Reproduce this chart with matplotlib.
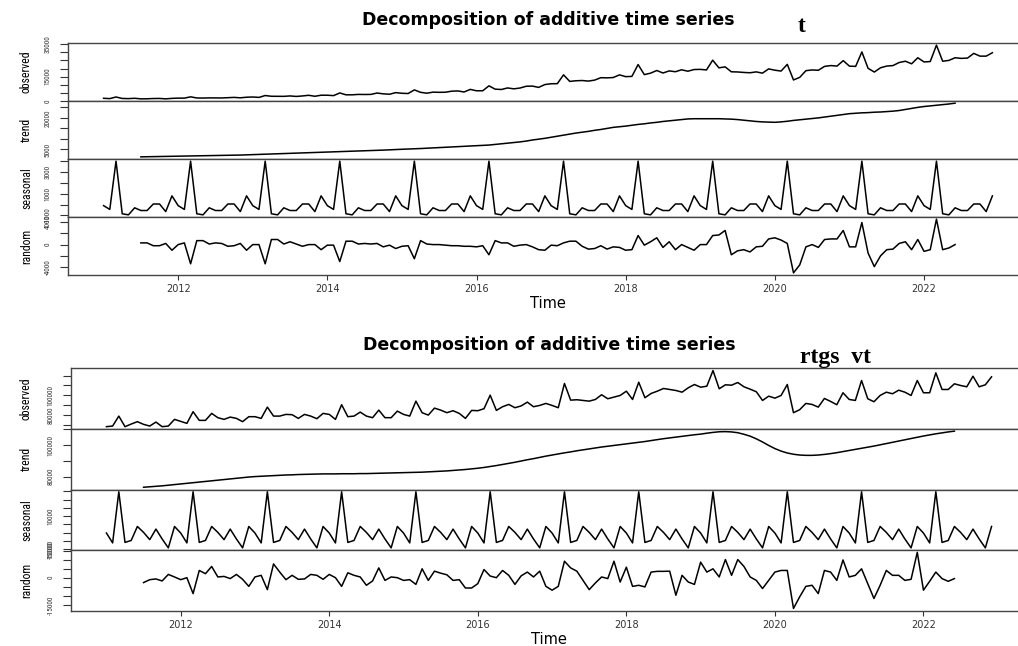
import numpy as np
import matplotlib
matplotlib.use("Agg")
import matplotlib.pyplot as plt

# ---- upper series (values in thousands), monthly Jan 2011 - Dec 2022 ----
top_observed = [
    1.6, 1.4, 2.4, 1.5, 1.4, 1.6, 1.25, 1.3, 1.45, 1.5, 1.25, 1.55,
    1.7, 1.7, 2.5, 1.8, 1.75, 1.85, 1.85, 1.8, 1.95, 2.15, 1.9, 2.25,
    2.4, 2.15, 3.3, 2.85, 2.85, 2.8, 3.05, 2.75, 3.05, 3.45, 2.85, 3.5,
    3.5, 3.25, 4.9, 3.75, 3.75, 4.0, 3.95, 4.0, 4.85, 4.35, 4.1, 5.1,
    4.7, 4.55, 6.8, 5.3, 4.75, 5.4, 5.3, 5.35, 6.0, 6.15, 5.5, 7.1,
    6.25, 6.25, 9.3, 7.25, 7.05, 8.0, 7.45, 7.95, 9.05, 9.15, 8.35, 10.1,
    10.6, 10.65, 16.1, 12.05, 12.45, 12.6, 12.25, 12.85, 14.35, 14.25, 14.45, 16.1,
    15.0, 15.15, 22.5, 16.25, 17.15, 18.8, 17.25, 18.55, 18.05, 19.25, 18.35, 19.4,
    19.5, 19.15, 25.2, 20.45, 21.05, 18.0, 17.9, 17.6, 17.4, 17.95, 17.15, 19.8,
    19.0, 18.45, 22.6, 12.95, 14.55, 18.7, 19.15, 18.95, 21.35, 21.85, 21.55, 24.9,
    21.5, 21.35, 30.3, 20.15, 17.85, 20.5, 21.55, 21.85, 23.75, 24.55, 22.95, 26.7,
    24.1, 24.35, 34.5, 24.55, 25.05, 26.7, 26.3, 26.5, 29.4, 27.7, 27.7, 29.8,
]
# trend and random: Jul 2011 - Jun 2022
top_trend = [
    1.50, 1.55, 1.60, 1.65, 1.70, 1.75,
    1.80, 1.85, 1.90, 1.95, 2.00, 2.05, 2.10, 2.15, 2.20, 2.30, 2.35, 2.45,
    2.5, 2.6, 2.7, 2.8, 2.9, 3.0, 3.1, 3.2, 3.3, 3.4, 3.5, 3.6,
    3.7, 3.8, 3.9, 4.0, 4.1, 4.2, 4.3, 4.45, 4.6, 4.7, 4.85, 5.0,
    5.1, 5.2, 5.3, 5.45, 5.6, 5.7, 5.85, 6.0, 6.15, 6.3, 6.45, 6.6,
    6.75, 6.9, 7.1, 7.4, 7.7, 8.0, 8.3, 8.6, 9.0, 9.5, 9.9, 10.3,
    10.8, 11.3, 11.8, 12.3, 12.8, 13.2, 13.6, 14.1, 14.5, 15.0, 15.5, 15.8,
    16.1, 16.5, 16.9, 17.2, 17.6, 17.9, 18.3, 18.6, 18.9, 19.2, 19.5, 19.6,
    19.6, 19.6, 19.6, 19.6, 19.5, 19.4, 19.2, 18.9, 18.6, 18.3, 18.1, 18.0,
    17.9, 18.1, 18.4, 18.8, 19.1, 19.4, 19.7, 20.0, 20.4, 20.8, 21.2, 21.6,
    22.0, 22.2, 22.4, 22.5, 22.7, 22.8, 23.0, 23.2, 23.5, 24.0, 24.5, 25.0,
    25.4, 25.7, 26.0, 26.3, 26.6, 27.0,
]
top_seasonal = [-0.1, -0.45, 4.0, -0.85, -0.95, -0.3, -0.55, -0.55, 0.05, 0.05, -0.65, 0.8]
top_random = [
    0.3, 0.3, -0.2, -0.2, 0.2, -1.0,
    0.0, 0.3, -3.4, 0.7, 0.7, 0.1, 0.3, 0.2, -0.3, -0.2, 0.2, -1.0,
    0.0, 0.0, -3.4, 0.9, 0.9, 0.1, 0.5, 0.1, -0.3, 0.0, 0.0, -0.9,
    -0.1, -0.1, -3.0, 0.6, 0.6, 0.1, 0.2, 0.1, 0.2, -0.4, -0.1, -0.7,
    -0.3, -0.2, -2.5, 0.7, 0.1, 0.0, 0.0, -0.1, -0.2, -0.2, -0.3, -0.3,
    -0.4, -0.2, -1.8, 0.7, 0.3, 0.3, -0.3, -0.1, 0.0, -0.4, -0.9, -1.0,
    -0.1, -0.2, 0.3, 0.6, 0.6, -0.3, -0.8, -0.7, -0.2, -0.8, -0.4, -0.5,
    -1.0, -0.9, 1.6, -0.1, 0.5, 1.2, -0.5, 0.5, -0.9, 0.0, -0.5, -1.0,
    0.0, 0.0, 1.6, 1.7, 2.5, -1.8, -1.1, -0.9, -1.3, -0.4, -0.3, 1.0,
    1.2, 0.8, 0.2, -5.0, -3.6, -0.4, 0.0, -0.5, 0.9, 1.0, 1.0, 2.5,
    -0.4, -0.4, 3.9, -1.5, -3.9, -2.0, -0.9, -0.8, 0.2, 0.5, -0.9, 0.9,
    -1.2, -0.9, 4.5, -0.9, -0.6, 0.0,
]

# ---- lower series (rtgs), values in thousands ----
bot_observed = [
    68.7, 69.3, 79.3, 68.7, 71.3, 73.7, 71.0, 69.3, 73.3, 68.7, 69.3, 76.0,
    74.0, 72.0, 83.7, 75.0, 75.0, 82.0, 77.7, 76.0, 78.3, 77.0, 73.7, 78.7,
    78.7, 77.0, 88.3, 79.3, 79.3, 81.0, 80.7, 77.0, 81.0, 79.3, 76.7, 82.0,
    81.0, 76.0, 90.7, 78.7, 79.3, 83.3, 79.3, 77.7, 85.3, 77.7, 77.7, 84.3,
    81.0, 79.3, 94.3, 82.7, 80.3, 87.3, 85.3, 82.7, 84.7, 82.0, 77.0, 85.0,
    84.7, 86.7, 100.3, 85.0, 88.7, 91.0, 87.7, 89.5, 93.3, 88.7, 90.0, 92.0,
    90.0, 87.7, 112.0, 95.3, 95.7, 95.0, 94.3, 96.0, 100.7, 96.7, 98.3, 100.0,
    104.3, 96.0, 113.3, 97.7, 102.0, 104.3, 107.0, 106.0, 105.0, 103.3, 107.7, 111.0,
    108.3, 109.3, 125.0, 106.7, 110.7, 110.3, 113.0, 108.7, 106.3, 103.7, 95.0, 99.3,
    97.3, 100.0, 111.0, 82.7, 85.7, 92.0, 91.0, 88.3, 97.0, 94.0, 90.7, 102.7,
    96.0, 95.0, 115.0, 96.7, 93.7, 100.0, 103.3, 101.7, 105.3, 103.3, 100.0, 115.0,
    102.7, 102.7, 122.7, 106.0, 106.0, 111.7, 110.0, 108.7, 119.3, 108.7, 110.7, 118.7,
]
bot_trend = [
    73.2, 73.5, 73.8, 74.1, 74.5, 74.9,
    75.3, 75.7, 76.1, 76.5, 76.9, 77.3, 77.7, 78.1, 78.5, 78.9, 79.3, 79.7,
    80.0, 80.2, 80.4, 80.6, 80.8, 81.0, 81.1, 81.3, 81.4, 81.5, 81.6, 81.7,
    81.7, 81.7, 81.8, 81.8, 81.8, 81.9, 81.9, 82.0, 82.1, 82.2, 82.3, 82.4,
    82.5, 82.6, 82.7, 82.8, 83.0, 83.2, 83.4, 83.6, 83.9, 84.2, 84.5, 84.9,
    85.3, 85.8, 86.4, 87.0, 87.7, 88.4, 89.1, 89.9, 90.7, 91.4, 92.2, 93.0,
    93.7, 94.4, 95.1, 95.7, 96.4, 97.0, 97.6, 98.2, 98.8, 99.3, 99.8, 100.3,
    100.8, 101.3, 101.8, 102.3, 102.9, 103.5, 104.1, 104.6, 105.1, 105.6, 106.1, 106.6,
    107.0, 107.6, 108.1, 108.5, 108.6, 108.4, 107.9, 106.9, 105.7, 104.0, 102.0, 99.8,
    97.8, 96.2, 95.0, 94.2, 93.7, 93.5, 93.5, 93.7, 94.1, 94.6, 95.2, 95.9,
    96.6, 97.3, 98.0, 98.7, 99.4, 100.2, 101.0, 101.8, 102.6, 103.4, 104.2, 105.0,
    105.8, 106.5, 107.2, 107.8, 108.4, 108.9,
]
bot_seasonal = [-0.3, -6.3, 24.8, -6.0, -4.8, 3.7, 0.1, -4.3, 2.1, -3.9, -9.3, 3.7]
bot_random = [
    -2.7, -1.1, -0.7, -1.8, 1.8, 0.4,
    -1.1, 0.0, -8.8, 4.0, 2.2, 6.2, 0.4, 0.7, -0.5, 1.8, -0.9, -4.8,
    0.4, 1.3, -6.6, 7.6, 3.1, -1.1, 1.3, -0.9, -0.7, 1.8, 1.3, -0.9,
    1.8, 0.0, -4.8, 2.7, 1.3, 0.4, -4.2, -1.8, 5.4, -1.5, 0.4, 0.0,
    -1.5, -1.1, -3.7, 4.9, -1.5, 3.6, 2.5, 1.6, -1.5, -1.1, -5.7, -5.7,
    -3.3, 4.5, 0.9, 0.0, 4.0, 1.3, -3.7, 1.0, 3.1, 0.4, 3.6, -4.8,
    -6.9, -4.8, 9.1, 5.4, 3.6, -1.5, -6.6, -2.9, 0.4, -0.5, 9.1, -2.4,
    5.8, -4.8, -4.2, -5.1, 3.1, 3.5, 3.5, 3.6, -9.7, 1.3, -2.4, -3.7,
    8.6, 3.1, 4.9, 0.4, 10.0, 1.3, 10.0, 6.2, 0.4, -1.5, -6.0, -1.5,
    3.1, 4.0, 4.0, -17.0, -10.6, -4.8, -4.2, -8.8, 4.0, 3.1, -1.5, 9.8,
    0.4, 1.3, 4.9, -3.3, -11.5, -4.2, 4.0, 1.3, 1.3, -1.5, -0.9, 14.0,
    -6.9, -2.0, 3.1, -0.5, -2.0, -0.5,
]

# axis ticks and the labels R managed to print
top_ticks = [list(range(0, 35001, 5000)), [5000, 10000, 15000, 20000, 25000],
             [-1000, 0, 1000, 2000, 3000, 4000], [-4000, -2000, 0, 2000, 4000]]
top_shown = [[0, 15000, 35000], [5000, 20000], [-1000, 1000, 3000], [-4000, 0, 4000]]
bot_ticks = [list(range(70000, 120001, 10000)), [80000, 90000, 100000, 110000],
             list(range(-10000, 25001, 5000)), list(range(-15000, 15001, 5000))]
bot_shown = [[80000, 100000], [80000, 100000], [-10000, 10000], [-15000, 0, 15000]]
year_ticks = [2012, 2014, 2016, 2018, 2020, 2022]
panel_names = ["observed", "trend", "seasonal", "random"]

W, H = 1018, 646
NARROW = ["Roboto Condensed", "Liberation Sans", "DejaVu Sans"]

fig = plt.figure(figsize=(W / 100, H / 100), dpi=100)


def decomp(top, h, left, right, obs, trend, seas, rand, ticks, shown, tag, tag_x, tag_y):
    t_all = 2011 + np.arange(144) / 12
    t_mid = 2011.5 + np.arange(132) / 12
    series = [(t_all, np.array(obs) * 1000), (t_mid, np.array(trend) * 1000),
              (t_all, np.tile(seas, 12) * 1000), (t_mid, np.array(rand) * 1000)]
    for i, (x, y) in enumerate(series):
        ax = fig.add_axes([left / W, 1 - (top + (i + 1) * h) / H, (right - left) / W, h / H])
        ax.plot(x, y, color="black", lw=1.1)
        lo, hi = y.min(), y.max()
        pad = 0.04 * (hi - lo)
        tk = [v for v in ticks[i] if lo - pad <= v <= hi + pad]
        ax.set_yticks(tk)
        ax.set_yticklabels([str(v) if v in shown[i] else "" for v in tk],
                           rotation=90, va="center", family=NARROW, fontsize=5.2)
        ax.set_ylim(lo - pad, hi + pad)
        ax.set_xlim(2010.523, 2023.394)
        ax.tick_params(axis="y", direction="out", length=5.8, width=0.8, pad=6, colors="#333")
        for s in ax.spines.values():
            s.set_color("#444")
            s.set_linewidth(1.0)
        ax.set_ylabel(panel_names[i], family=NARROW, fontsize=8.5)
        ax.yaxis.set_label_coords(-(left - 33) / (right - left), 0.5)
        if i == 3:
            ax.set_xticks(year_ticks)
            ax.set_xticklabels([str(v) for v in year_ticks], fontsize=7)
            ax.tick_params(axis="x", direction="out", length=3.6, width=0.8, pad=3, colors="#333")
        else:
            ax.tick_params(axis="x", bottom=False, labelbottom=False)
    cx = (left + right) / 2 / W
    fig.text(cx, 1 - (top - 18) / H, "Decomposition of additive time series",
             ha="center", va="baseline", fontsize=12.5, fontweight="bold")
    fig.text(cx, 1 - (top + 4 * h + 33) / H, "Time", ha="center", va="baseline", fontsize=10.5)
    fig.text(tag_x / W, 1 - tag_y / H, tag, ha="left", va="baseline",
             family="Liberation Serif", fontweight="bold", fontsize=17)


decomp(43, 58, 68, 1028, top_observed, top_trend, top_seasonal, top_random,
       top_ticks, top_shown, "t", 798, 32)
decomp(368.3, 60.6, 71, 1027, bot_observed, bot_trend, bot_seasonal, bot_random,
       bot_ticks, bot_shown, "rtgs  vt", 800, 363)

fig.savefig("out.png", dpi=100)
